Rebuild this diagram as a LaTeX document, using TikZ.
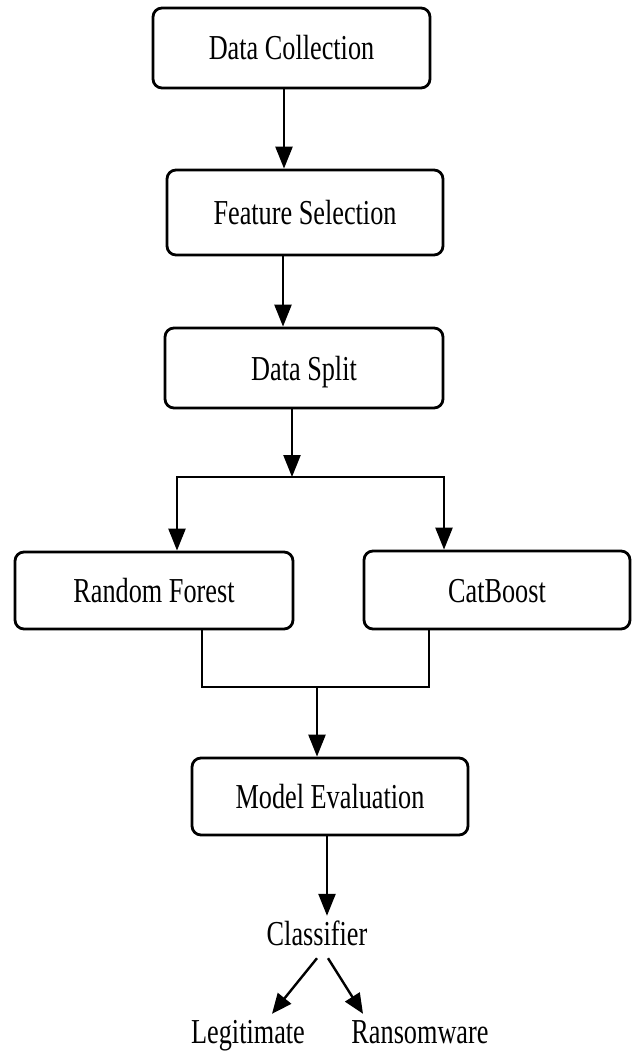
\documentclass[tikz,border=0pt]{standalone}
\usepackage{fontspec}
\setmainfont{Liberation Serif}[FakeStretch=0.75]
\usepackage{tikz}
\usetikzlibrary{shapes}
\usetikzlibrary{positioning}
\usetikzlibrary{arrows.meta}

\tikzset{
  stage/.style={draw, line width=2.8pt, rounded corners=9pt, text height=24pt, text depth=0pt, font=\fontsize{35}{40}\selectfont},
  outtext/.style={inner sep=5pt, text height=24pt, text depth=8pt, font=\fontsize{35}{40}\selectfont},
  flow/.style={line width=2.4pt, -{Triangle[length=22pt,width=17pt]}},
  smallflow/.style={line width=2.4pt, -{Triangle[length=20pt,width=17pt]}},
  wire/.style={line width=2.4pt}
}

\begin{document}
\begin{tikzpicture}[x=1pt,y=-1pt]
\useasboundingbox (0,0) rectangle (632,1051);
\node[stage,minimum width=277pt,minimum height=80pt] (collect) at (291.5,48) {Data Collection};
\node[stage,minimum width=276pt,minimum height=85pt] (feature) at (305,212.5) {Feature Selection};
\node[stage,minimum width=278pt,minimum height=80pt] (split) at (304,368) {Data Split};
\node[stage,minimum width=278pt,minimum height=77pt] (rf) at (154,590.5) {Random Forest};
\node[stage,minimum width=266pt,minimum height=78pt] (cat) at (497,590) {CatBoost};
\node[stage,minimum width=276pt,minimum height=77pt] (eval) at (330,796.5) {Model Evaluation};
\node[outtext] (clf) at (317,937) {Classifier};
\node[outtext] (legit) at (248,1035) {Legitimate};
\node[outtext] (ransom) at (420,1035) {Ransomware};
\coordinate (fork) at (292,477);
\coordinate (merge) at (317,687);

\draw[flow] ([xshift=-7.5pt]collect.south) -- ([xshift=-7.5pt]collect.south |- feature.north);
\draw[flow] ([xshift=-22pt]feature.south) -- ([xshift=-22pt]feature.south |- split.north);
\draw[flow] ([xshift=-12pt]split.south) -- (fork);
\draw[flow] (fork) -| ([xshift=23pt]rf.north);
\draw[flow] (fork) -| ([xshift=-53pt]cat.north);
\draw[wire] ([xshift=48pt]rf.south) |- (merge);
\draw[wire] ([xshift=-68pt]cat.south) |- (merge);
\draw[flow] (merge) -- (merge |- eval.north);
\draw[flow] ([xshift=-3pt]eval.south) -- ([xshift=-3pt]eval.south |- clf.north);
\draw[smallflow] (clf.south) -- ([xshift=24pt]legit.north);
\draw[smallflow] ([xshift=11pt]clf.south) -- ([xshift=-57pt]ransom.north);
\end{tikzpicture}
\end{document}
